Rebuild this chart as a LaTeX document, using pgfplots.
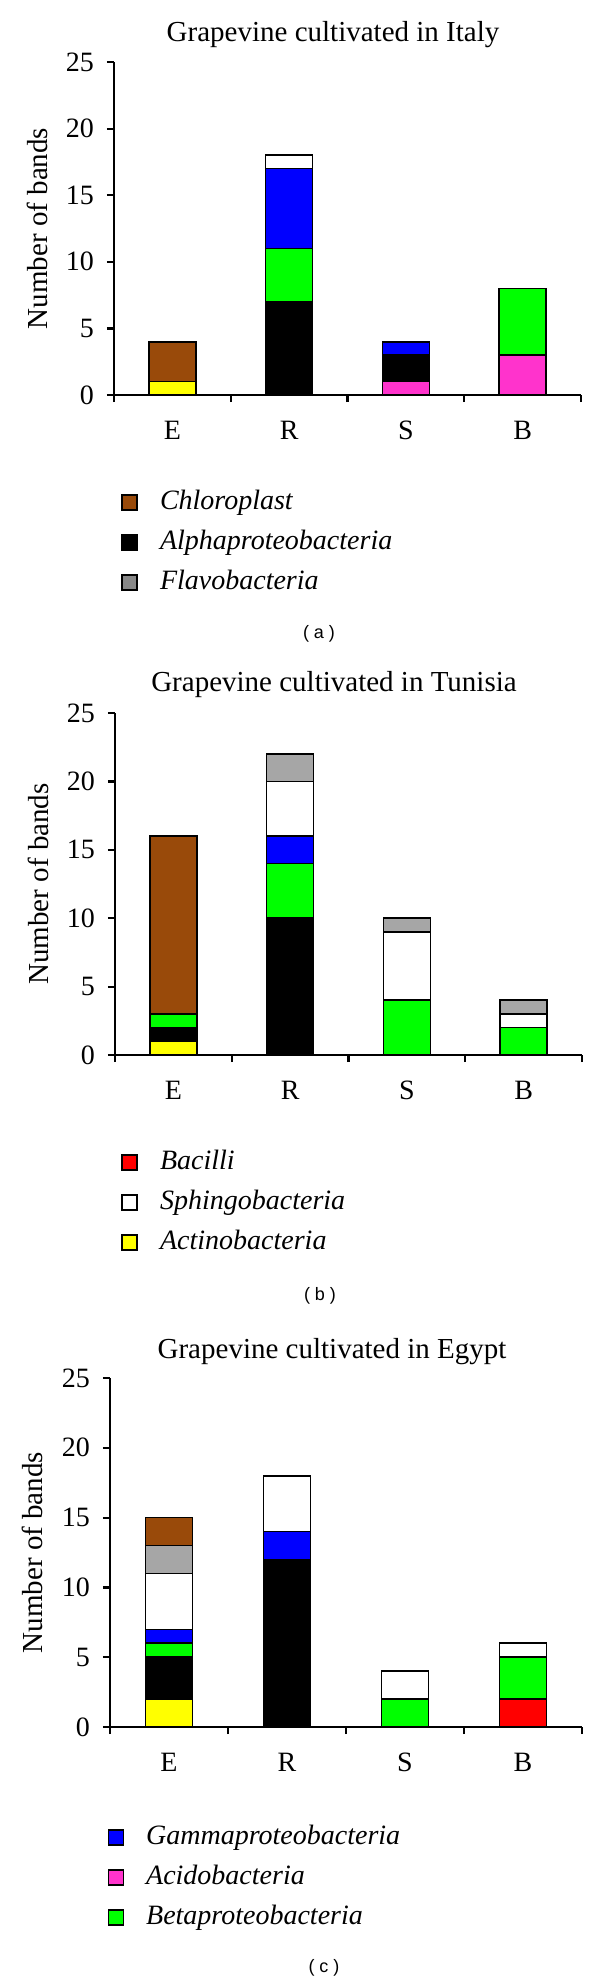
\documentclass[border=0pt]{standalone}
\usepackage{fontspec}
\setmainfont{Liberation Serif}
\newfontfamily\capfont{Liberation Sans}
\usepackage{pgfplots}
\usepackage{pgfplotstable}
\pgfplotsset{compat=1.18}

\definecolor{cbrown}{RGB}{153,74,10}
\definecolor{cpink}{RGB}{255,51,204}
\definecolor{cgreen}{RGB}{0,255,0}
\definecolor{cblue}{RGB}{0,0,255}
\definecolor{cgray}{RGB}{166,166,166}
\definecolor{cgrayleg}{RGB}{136,136,136}
\definecolor{cyellow}{RGB}{255,255,0}
\definecolor{cred}{RGB}{255,0,0}

\pgfplotstableread{
x red yellow pink black green blue white gray brown
0 0 1 0 0 0 0 0 0 3
1 0 0 0 7 4 6 1 0 0
2 0 0 1 2 0 1 0 0 0
3 0 0 3 0 5 0 0 0 0
}\italy
\pgfplotstableread{
x red yellow pink black green blue white gray brown
0 0 1 0 1 1 0 0 0 13
1 0 0 0 10 4 2 4 2 0
2 0 0 0 0 4 0 5 1 0
3 0 0 0 0 2 0 1 1 0
}\tunisia
\pgfplotstableread{
x red yellow pink black green blue white gray brown
0 0 2 0 3 1 1 4 2 2
1 0 0 0 12 0 2 4 0 0
2 0 0 0 0 2 0 2 0 0
3 2 0 0 0 3 0 1 0 0
}\egypt

\pgfplotsset{
  sq/.style={legend image code/.code={\draw[fill=#1,draw=black,line width=0.8pt] (0pt,-3.75pt) rectangle (7.5pt,3.75pt);}},
  bandaxis/.style={
    scale only axis,
    anchor=south west,
    ybar stacked,
    bar width=23.5pt,
    xmin=-0.5, xmax=3.5,
    ymin=0, ymax=25,
    axis lines*=left,
    axis line style={line width=1.1pt},
    tick style={black, line width=1.1pt},
    tick align=outside,
    major tick length=3.5pt,
    ytick={0,5,...,25},
    xtick={-0.5,0.5,1.5,2.5,3.5},
    xticklabels={},
    extra x ticks={0,1,2,3},
    extra x tick labels={E,R,S,B},
    extra x tick style={tick style={draw=none}, tick label style={yshift=-6pt}},
    tick label style={font=\fontsize{14}{16}\selectfont},
    yticklabel style={xshift=-3pt},
    /pgf/number format/assume math mode=true,
    ylabel={Number of bands},
    ylabel style={font=\fontsize{14.5}{17}\selectfont, at={(axis description cs:-0.165,0.5)}, anchor=center},
    legend style={draw=none, fill=none, anchor=north west, inner sep=0pt,
      font=\fontsize{14}{16}\selectfont\itshape,
      nodes={inner sep=0pt, text height=10.5pt, text depth=3.5pt},
      row sep=6pt, column sep=11pt},
    legend cell align=left,
  },
}

\begin{document}
\begin{tikzpicture}
\useasboundingbox (0,0) rectangle (300pt,-993pt);

% ---------- (a) Italy ----------
\node[font=\fontsize{14.5}{17}\selectfont] at (166.5pt,-17.5pt) {Grapevine cultivated in Italy};
\begin{axis}[bandaxis, at={(57pt,-197.5pt)}, width=233.5pt, height=166.5pt,
  legend style={at={(axis description cs:0.015,-0.279)}}]
\addplot[fill=cred, draw=black, line width=0.8pt, forget plot] table[x=x,y=red]{\italy};
\addplot[fill=cyellow, draw=black, line width=0.8pt, forget plot] table[x=x,y=yellow]{\italy};
\addplot[fill=cpink, draw=black, line width=0.8pt, forget plot] table[x=x,y=pink]{\italy};
\addplot[fill=black, draw=black, line width=0.8pt, forget plot] table[x=x,y=black]{\italy};
\addplot[fill=cgreen, draw=black, line width=0.8pt, forget plot] table[x=x,y=green]{\italy};
\addplot[fill=cblue, draw=black, line width=0.8pt, forget plot] table[x=x,y=blue]{\italy};
\addplot[fill=white, draw=black, line width=0.8pt, forget plot] table[x=x,y=white]{\italy};
\addplot[fill=cgray, draw=black, line width=0.8pt, forget plot] table[x=x,y=gray]{\italy};
\addplot[fill=cbrown, draw=black, line width=0.8pt, forget plot] table[x=x,y=brown]{\italy};
\addlegendimage{sq=cbrown}\addlegendentry{Chloroplast}
\addlegendimage{sq=black}\addlegendentry{Alphaproteobacteria}
\addlegendimage{sq=cgrayleg}\addlegendentry{Flavobacteria}
\end{axis}
\node[font=\capfont\fontsize{9}{11}\selectfont] at (159.5pt,-317pt) {( a )};

% ---------- (b) Tunisia ----------
\node[font=\fontsize{14.5}{17}\selectfont] at (167pt,-342.5pt) {Grapevine cultivated in Tunisia};
\begin{axis}[bandaxis, at={(57.5pt,-527.5pt)}, width=233.5pt, height=171pt,
  legend style={at={(axis description cs:0.013,-0.272)}}]
\addplot[fill=cred, draw=black, line width=0.8pt, forget plot] table[x=x,y=red]{\tunisia};
\addplot[fill=cyellow, draw=black, line width=0.8pt, forget plot] table[x=x,y=yellow]{\tunisia};
\addplot[fill=cpink, draw=black, line width=0.8pt, forget plot] table[x=x,y=pink]{\tunisia};
\addplot[fill=black, draw=black, line width=0.8pt, forget plot] table[x=x,y=black]{\tunisia};
\addplot[fill=cgreen, draw=black, line width=0.8pt, forget plot] table[x=x,y=green]{\tunisia};
\addplot[fill=cblue, draw=black, line width=0.8pt, forget plot] table[x=x,y=blue]{\tunisia};
\addplot[fill=white, draw=black, line width=0.8pt, forget plot] table[x=x,y=white]{\tunisia};
\addplot[fill=cgray, draw=black, line width=0.8pt, forget plot] table[x=x,y=gray]{\tunisia};
\addplot[fill=cbrown, draw=black, line width=0.8pt, forget plot] table[x=x,y=brown]{\tunisia};
\addlegendimage{sq=cred}\addlegendentry{Bacilli}
\addlegendimage{sq=white}\addlegendentry{Sphingobacteria}
\addlegendimage{sq=cyellow}\addlegendentry{Actinobacteria}
\end{axis}
\node[font=\capfont\fontsize{9}{11}\selectfont] at (160pt,-648pt) {( b )};

% ---------- (c) Egypt ----------
\node[font=\fontsize{14.5}{17}\selectfont] at (166pt,-676pt) {Grapevine cultivated in Egypt};
\begin{axis}[bandaxis, at={(55pt,-863.5pt)}, width=236pt, height=174.5pt,
  legend style={at={(axis description cs:-0.006,-0.275)}}]
\addplot[fill=cred, draw=black, line width=0.8pt, forget plot] table[x=x,y=red]{\egypt};
\addplot[fill=cyellow, draw=black, line width=0.8pt, forget plot] table[x=x,y=yellow]{\egypt};
\addplot[fill=cpink, draw=black, line width=0.8pt, forget plot] table[x=x,y=pink]{\egypt};
\addplot[fill=black, draw=black, line width=0.8pt, forget plot] table[x=x,y=black]{\egypt};
\addplot[fill=cgreen, draw=black, line width=0.8pt, forget plot] table[x=x,y=green]{\egypt};
\addplot[fill=cblue, draw=black, line width=0.8pt, forget plot] table[x=x,y=blue]{\egypt};
\addplot[fill=white, draw=black, line width=0.8pt, forget plot] table[x=x,y=white]{\egypt};
\addplot[fill=cgray, draw=black, line width=0.8pt, forget plot] table[x=x,y=gray]{\egypt};
\addplot[fill=cbrown, draw=black, line width=0.8pt, forget plot] table[x=x,y=brown]{\egypt};
\addlegendimage{sq=cblue}\addlegendentry{Gammaproteobacteria}
\addlegendimage{sq=cpink}\addlegendentry{Acidobacteria}
\addlegendimage{sq=cgreen}\addlegendentry{Betaproteobacteria}
\end{axis}
\node[font=\capfont\fontsize{9}{11}\selectfont] at (162pt,-984pt) {( c )};
\end{tikzpicture}
\end{document}
